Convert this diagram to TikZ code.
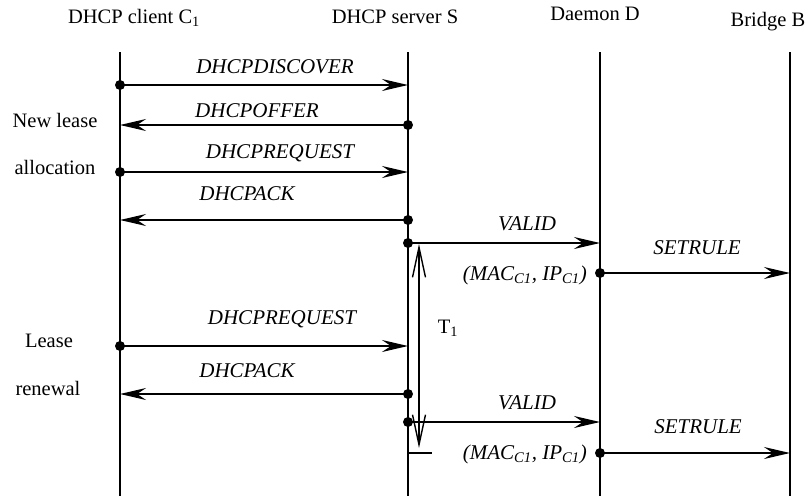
\documentclass[tikz,border=0pt]{standalone}
\usepackage{fontspec}
\setmainfont{Liberation Serif}
\usetikzlibrary{arrows.meta}
\begin{document}
\begin{tikzpicture}[x=1pt,y=-1pt,
  life/.style={line width=1.5pt},
  msg/.style={line width=1.6pt,-{Stealth[length=26pt,width=12pt,inset=9pt]}},
  dotc/.style={circle,fill=black,inner sep=0pt,minimum size=10pt},
  head/.style={font=\fontsize{20.5}{24}\selectfont,anchor=base,inner sep=0pt},
  lbl/.style={font=\fontsize{21}{25}\selectfont\itshape,anchor=base,inner sep=0pt},
  side/.style={font=\fontsize{20.5}{24}\selectfont,anchor=base,inner sep=0pt}]
\useasboundingbox (0,0) rectangle (809,496);
% headers
\node[head] (hC) at (134,23) {DHCP client C\textsubscript{1}};
\node[head] (hS) at (395,23) {DHCP server S};
\node[head] (hD) at (595,20) {Daemon D};
\node[head] (hB) at (768,26) {Bridge B};
% lifelines
\coordinate (Ct) at (120,52); \coordinate (Cb) at (120,496);
\coordinate (St) at (408,52); \coordinate (Sb) at (408,496);
\coordinate (Dt) at (600,52); \coordinate (Db) at (600,496);
\coordinate (Bt) at (790,52); \coordinate (Bb) at (790,496);
\draw[life] (Ct) -- (Cb);
\draw[life] (St) -- (Sb);
\draw[life] (Dt) -- (Db);
\draw[life] (Bt) -- (Bb);
% side labels
\node[side] (s1) at (55,127) {New lease};
\node[side] (s2) at (55,174) {allocation};
\node[side] (s3) at (49,347) {Lease};
\node[side] (s4) at (48,395) {renewal};
% message end points
\coordinate (m1a) at (120,85);  \coordinate (m1b) at (408,85);
\coordinate (m2a) at (408,125); \coordinate (m2b) at (120,125);
\coordinate (m3a) at (120,172); \coordinate (m3b) at (408,172);
\coordinate (m4a) at (408,220); \coordinate (m4b) at (120,220);
\coordinate (m5a) at (408,243); \coordinate (m5b) at (600,243);
\coordinate (m6a) at (600,273); \coordinate (m6b) at (790,273);
\coordinate (m7a) at (120,346); \coordinate (m7b) at (408,346);
\coordinate (m8a) at (408,394); \coordinate (m8b) at (120,394);
\coordinate (m9a) at (408,422); \coordinate (m9b) at (600,422);
\coordinate (m10a) at (600,453); \coordinate (m10b) at (790,453);
% messages
\foreach \m in {m1,m2,m3,m4,m5,m6,m7,m8,m9,m10}{
  \draw[msg] (\m a) -- (\m b);
  \node[dotc] at (\m a) {};
}
% message labels
\node[lbl] (l1) at (275,73) {DHCPDISCOVER};
\node[lbl] (l2) at (257,117) {DHCPOFFER};
\node[lbl] (l3) at (280,158) {DHCPREQUEST};
\node[lbl] (l4) at (247,200) {DHCPACK};
\node[lbl] (l5) at (527,230) {VALID};
\node[lbl,anchor=base east] (l6) at (587,280) {(MAC\textsubscript{C1}, IP\textsubscript{C1})};
\node[lbl] (l7) at (697,254) {SETRULE};
\node[lbl] (l8) at (282,324) {DHCPREQUEST};
\node[lbl] (l9) at (247,377) {DHCPACK};
\node[lbl] (l10) at (527,409) {VALID};
\node[lbl,anchor=base east] (l11) at (587,459) {(MAC\textsubscript{C1}, IP\textsubscript{C1})};
\node[lbl] (l12) at (698,433) {SETRULE};
% T1 interval
\coordinate (t1) at (419,244);
\coordinate (t2) at (419,448);
\draw[line width=1.4pt,{Straight Barb[length=30pt,width=13pt]}-{Straight Barb[length=30pt,width=13pt]}] (t1) -- (t2);
\coordinate (k1) at (408,453); \coordinate (k2) at (432,453);
\draw[line width=1.4pt] (k1) -- (k2);
\node[side] (T1) at (448,333) {T\textsubscript{1}};
\end{tikzpicture}
\end{document}
